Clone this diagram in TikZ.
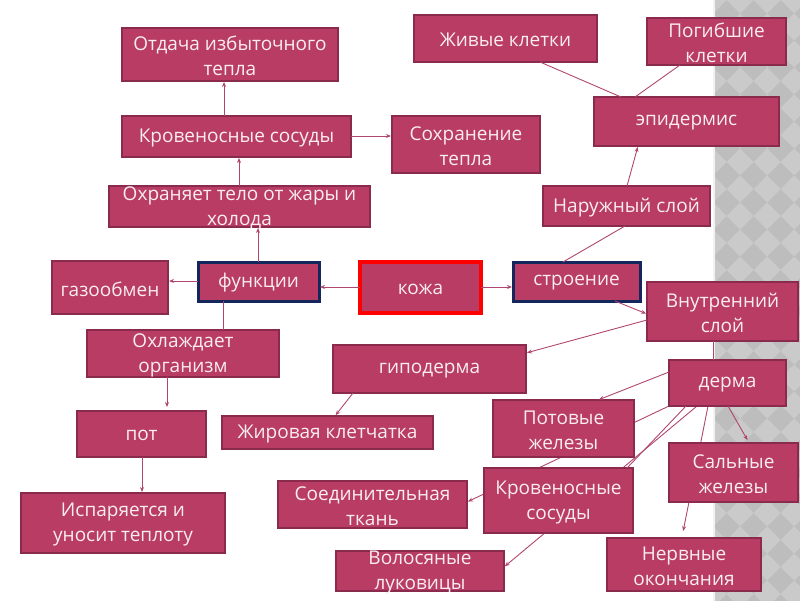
\documentclass[tikz,border=0pt]{standalone}
\usepackage{fontspec}
\setmainfont{Open Sans}
\usetikzlibrary{arrows.meta}
\pgfdeclarelayer{bg}
\pgfsetlayers{bg,main}
\definecolor{boxfill}{HTML}{B83C64}
\definecolor{boxedge}{HTML}{8A2A4C}
\definecolor{navy}{HTML}{13275C}
\definecolor{txtc}{HTML}{FAEDF2}
\definecolor{linec}{HTML}{B0466F}
\definecolor{graybg}{HTML}{BDBDBD}
\definecolor{graylt}{HTML}{CACACA}
\tikzset{
 box/.style={draw=boxedge, fill=boxfill, line width=2.5pt, inner sep=0pt, outer sep=0pt},
 bluebox/.style={draw=navy, line width=3pt},
 redbox/.style={draw=red, line width=3.5pt},
 txt/.style={text=txtc, align=center, font=\fontsize{19}{25}\selectfont, inner sep=0pt, yshift=-1.5pt},
 conn/.style={draw=linec, line width=0.9pt},
 arr/.style={conn, -{Stealth[length=5pt,width=4pt]}, shorten >=1pt},
}
\newcommand\bx[7][]{%
 \pgfmathsetmacro\cx{(#3+#5)/2}\pgfmathsetmacro\cy{(#4+#6)/2}%
 \pgfmathsetmacro\ww{#5-#3}\pgfmathsetmacro\hh{#6-#4}%
 \node[box,#1,minimum width=\ww pt,minimum height=\hh pt] (#2) at (\cx,\cy) {};%
 \node[txt] (#2t) at (#2.center) {#7};}
\begin{document}
\begin{tikzpicture}[x=1pt,y=-1pt]
\useasboundingbox (0,0) rectangle (800,600);
% boxes
\bx{otd}{122}{28}{338}{81}{Отдача избыточного\\тепла}
\bx{kr1}{122}{116}{351}{157}{Кровеносные сосуды}
\bx{sohr}{392}{116}{540}{173}{Сохранение\\тепла}
\bx{ohr}{109}{186}{370}{227}{Охраняет тело от жары и\\холода}
\bx[bluebox]{funk}{198}{262}{319}{301}{функции}
\bx{gaz}{52}{261}{168}{314}{газообмен}
\bx[redbox]{kozha}{360}{262}{481}{313}{кожа}
\bx[bluebox]{stroen}{513}{262}{640}{301}{строение}
\bx{nar}{543}{186}{710}{226}{Наружный слой}
\bx{epid}{594}{97}{779}{146}{эпидермис}
\bx{jiv}{414}{15}{597}{62}{Живые клетки}
\bx{pog}{647}{18}{786}{65}{Погибшие\\клетки}
\bx{vnutr}{647}{282}{798}{341}{Внутренний\\слой}
\bx{gipo}{333}{345}{526}{393}{гиподерма}
\bx{jir}{222}{416}{433}{449}{Жировая клетчатка}
\bx{derma}{669}{360}{786}{406}{дерма}
\bx{potov}{493}{400}{634}{457}{Потовые\\железы}
\bx{kr2}{484}{468}{633}{533}{Кровеносные\\сосуды}
\bx{saln}{669}{443}{798}{502}{Сальные\\железы}
\bx{soed}{278}{481}{467}{528}{Соединительная\\ткань}
\bx{volos}{336}{551}{504}{591}{Волосяные\\луковицы}
\bx{nerv}{607}{538}{761}{591}{Нервные\\окончания}
\bx{ohl}{87}{330}{279}{377}{Охлаждает\\организм}
\bx{pot}{77}{411}{206}{457}{пот}
\bx{isp}{21}{493}{225}{553}{Испаряется и\\уносит теплоту}
% background layer
\begin{pgfonlayer}{bg}
 \begin{scope}
  \clip (713,-5) rectangle (805,605);
  \fill[graybg] (713,-5) rectangle (805,605);
  \foreach \i in {0,...,4}{\foreach \j in {0,...,23}{
   \fill[graylt] (713+27*\i-13.5,27*\j) -- (713+27*\i,27*\j-13.5) -- (713+27*\i+13.5,27*\j) -- (713+27*\i,27*\j+13.5) -- cycle;}}
 \end{scope}
 \fill[white!90!gray] (713,-5) rectangle (714.5,605);
 \draw[arr] ([shift={(0,46)}]derma.north west) -- ([shift={(189,21)}]soed.north west);
 \draw[arr] ([shift={(28,46)}]derma.north west) -- ([shift={(168,16)}]volos.north west);
 \draw[arr] ([shift={(39,46)}]derma.north west) -- ([shift={(76,-6)}]nerv.north west);
\end{pgfonlayer}
% connectors
\draw[arr] ([shift={(102,0)}]kr1.north west) -- ([shift={(102,53)}]otd.north west);
\draw[arr] ([shift={(130,0)}]ohr.north west) -- ([shift={(117,41)}]kr1.north west);
\draw[arr] ([shift={(60,0)}]funk.north west) -- ([shift={(149,41)}]ohr.north west);
\draw[arr] ([shift={(229,20)}]kr1.north west) -- ([shift={(0,20)}]sohr.north west);
\draw[arr] ([shift={(0,19)}]funk.north west) -- ([shift={(116,20)}]gaz.north west);
\draw[arr] ([shift={(0,25)}]kozha.north west) -- ([shift={(121,25)}]funk.north west);
\draw[arr] ([shift={(121,25)}]kozha.north west) -- ([shift={(0,25)}]stroen.north west);
\draw[conn] ([shift={(25,39)}]funk.north west) -- ([shift={(136,0)}]ohl.north west);
\draw[arr] ([shift={(80,47)}]ohl.north west) -- ([shift={(90,-3)}]pot.north west);
\draw[arr] ([shift={(65,46)}]pot.north west) -- ([shift={(121,0)}]isp.north west);
\draw[conn] ([shift={(50,0)}]stroen.north west) -- ([shift={(82,40)}]nar.north west);
\draw[arr] ([shift={(84,0)}]nar.north west) -- ([shift={(44,49)}]epid.north west);
\draw[conn] ([shift={(27,0)}]epid.north west) -- ([shift={(126,47)}]jiv.north west);
\draw[conn] ([shift={(41,0)}]epid.north west) -- ([shift={(33,47)}]pog.north west);
\draw[arr] ([shift={(102,39)}]stroen.north west) -- ([shift={(0,32)}]vnutr.north west);
\draw[arr] ([shift={(0,38)}]vnutr.north west) -- ([shift={(193,8)}]gipo.north west);
\draw[conn] ([shift={(66,59)}]vnutr.north west) -- ([shift={(44,0)}]derma.north west);
\draw[arr] ([shift={(20,48)}]gipo.north west) -- ([shift={(113,0)}]jir.north west);
\draw[arr] ([shift={(0,12)}]derma.north west) -- ([shift={(105,0)}]potov.north west);
\draw[conn] ([shift={(17,46)}]derma.north west) -- ([shift={(143,0)}]kr2.north west);
\draw[arr] ([shift={(59,46)}]derma.north west) -- ([shift={(79,-2)}]saln.north west);
\end{tikzpicture}
\end{document}
